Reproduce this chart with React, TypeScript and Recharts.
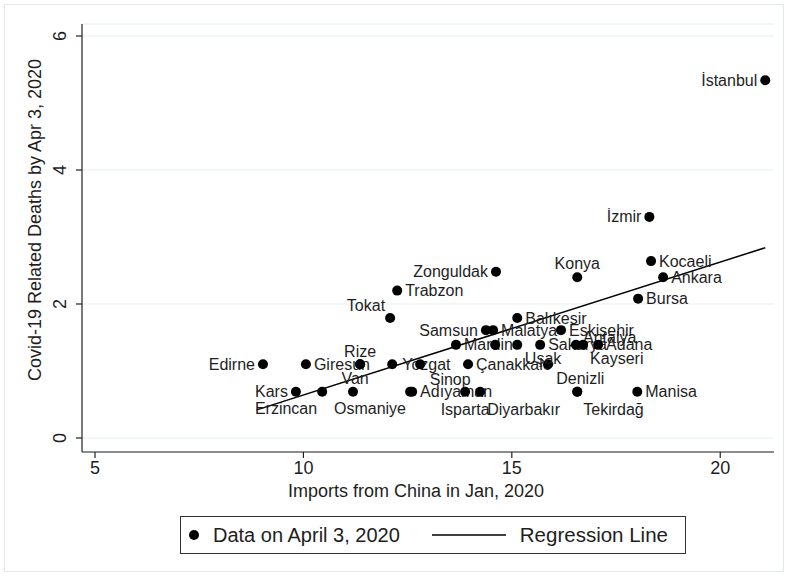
import { ScatterChart, Scatter, XAxis, YAxis, CartesianGrid, Legend } from "recharts";

// province data: log of Covid-19 deaths vs. imports from China
const provinces = [
  "İstanbul", "İzmir", "Kocaeli", "Ankara", "Bursa", "Konya", "Zonguldak", "Trabzon",
  "Tokat", "Balıkesir", "Samsun", "Malatya", "Eskişehir", "Mardin", "", "",
  "Sakarya", "Antalya", "Kayseri", "Adana", "Edirne", "Giresun", "Rize", "Van",
  "Yozgat", "", "Çanakkale", "Uşak", "Kars", "Erzincan", "Osmaniye", "Adıyaman",
  "Sinop", "Isparta", "Diyarbakır", "Denizli", "Tekirdağ", "Manisa",
];
const imports = [
  21.08, 18.3, 18.34, 18.63, 18.03, 16.57, 14.62, 12.25,
  12.08, 15.13, 14.38, 14.55, 16.18, 13.66, 14.6, 15.13,
  15.68, 16.54, 16.71, 17.07, 9.03, 10.06, 11.36, 11.36,
  12.13, 12.8, 13.95, 15.87, 9.82, 10.45, 11.19, 12.56,
  12.61, 13.88, 14.24, 16.57, 16.57, 18.01,
];
const deaths = [
  5.34, 3.3, 2.64, 2.4, 2.08, 2.4, 2.48, 2.2,
  1.79, 1.79, 1.61, 1.61, 1.61, 1.39, 1.39, 1.39,
  1.39, 1.39, 1.39, 1.39, 1.1, 1.1, 1.1, 1.1,
  1.1, 1.1, 1.1, 1.1, 0.69, 0.69, 0.69, 0.69,
  0.69, 0.69, 0.69, 0.69, 0.69, 0.69,
];

// fitted line end points
const fitX = [8.88, 21.08];
const fitY = [0.42, 2.84];

const xTicks = [5, 10, 15, 20];
const yTicks = [0, 2, 4, 6];

const points = provinces.map((name, i) => ({ name, imports: imports[i], deaths: deaths[i] }));
const fitLine = fitX.map((x, i) => ({ imports: x, deaths: fitY[i] }));

const FONT = "'Liberation Sans', Arial, sans-serif";
const INK = "#1e1e1e";

type Anchor = "start" | "middle" | "end";
// marker label placement: [dx, dy, anchor]; default is to the right
const LEFT: [number, number, Anchor] = [-8, 0, "end"];
const placement: Record<string, [number, number, Anchor]> = {
  "İstanbul": LEFT,
  "İzmir": LEFT,
  Zonguldak: LEFT,
  Samsun: LEFT,
  Edirne: LEFT,
  Kars: LEFT,
  Konya: [0, -14, "middle"],
  Tokat: [-5, -13, "end"],
  Antalya: [7, -7, "start"],
  Kayseri: [7, 14, "start"],
  Rize: [0, -13, "middle"],
  Van: [-5, 14, "middle"],
  "Uşak": [-5, -6, "middle"],
  Erzincan: [-5, 17, "end"],
  Osmaniye: [17, 17, "middle"],
  Sinop: [38, -12, "middle"],
  Isparta: [0, 18, "middle"],
  "Diyarbakır": [7, 18, "start"],
  Denizli: [3, -13, "middle"],
  "Tekirdağ": [6, 18, "start"],
  "Adıyaman": [10, 0, "start"],
  Yozgat: [10, 0, "start"],
};

const Dot = (props: any) => {
  const { cx, cy, payload } = props;
  const name: string = payload.name;
  const [dx, dy, anchor] = placement[name] || [8, 0, "start"];
  return (
    <g>
      <circle cx={cx} cy={cy} r={5} fill="#000" />
      {name && (
        <text
          x={cx + dx}
          y={cy + dy}
          dy="0.35em"
          textAnchor={anchor}
          fontSize={16}
          fontFamily={FONT}
          fill={INK}
        >
          {name}
        </text>
      )}
    </g>
  );
};

const YTick = (props: any) => {
  const { x, y, payload } = props;
  const bx = x - 8;
  return (
    <text
      x={bx}
      y={y}
      transform={`rotate(-90 ${bx} ${y})`}
      textAnchor="middle"
      fontSize={18}
      fontFamily={FONT}
      fill={INK}
    >
      {payload.value}
    </text>
  );
};

const LegendBox = () => (
  <div
    style={{
      boxSizing: "border-box",
      width: 506,
      height: 38,
      border: "1.5px solid #333",
      display: "flex",
      alignItems: "center",
      fontFamily: FONT,
      fontSize: 20,
      color: INK,
      background: "#fff",
    }}
  >
    <svg width={30} height={20}>
      <circle cx={13} cy={10} r={5} fill="#000" />
    </svg>
    <span style={{ marginLeft: 2 }}>Data on April 3, 2020</span>
    <svg width={88} height={20} style={{ marginLeft: 32 }}>
      <line x1={0} x2={74} y1={10} y2={10} stroke="#000" strokeWidth={1.5} />
    </svg>
    <span style={{ fontSize: 20.5 }}>Regression Line</span>
  </div>
);

export default function App() {
  return (
    <div style={{ position: "absolute", left: 0, top: 0, width: 788, height: 576, background: "#fff" }}>
      <div
        style={{
          position: "absolute",
          left: 4,
          top: 4,
          width: 778,
          height: 566,
          border: "1px solid #e3eaec",
        }}
      />
      <ScatterChart
        width={788}
        height={576}
        margin={{ top: 24, right: 14, bottom: 84, left: 22 }}
        style={{ position: "absolute", left: 0, top: 0 }}
      >
        <CartesianGrid vertical={false} stroke="#e4eef0" strokeWidth={1} />
        <XAxis
          type="number"
          dataKey="imports"
          domain={[4.688, 21.29]}
          ticks={xTicks}
          allowDataOverflow
          height={40}
          tickSize={6}
          tickMargin={3}
          axisLine={{ stroke: "#222", strokeWidth: 1.2 }}
          tickLine={{ stroke: "#222", strokeWidth: 1.2 }}
          tick={{ fontSize: 18, fontFamily: FONT, fill: INK }}
          label={{
            value: "Imports from China in Jan, 2020",
            position: "insideBottom",
            offset: 0,
            dx: -12,
            dy: 5,
            fontSize: 18,
            fontFamily: FONT,
            fill: INK,
          }}
        />
        <YAxis
          type="number"
          dataKey="deaths"
          domain={[-0.209, 6.179]}
          ticks={yTicks}
          allowDataOverflow
          width={60}
          tickSize={6}
          axisLine={{ stroke: "#222", strokeWidth: 1.2 }}
          tickLine={{ stroke: "#222", strokeWidth: 1.2 }}
          tick={<YTick />}
          label={() => {
            const cx = 41;
            const cy = 220;
            return (
              <text
                x={cx}
                y={cy}
                transform={`rotate(-90 ${cx} ${cy})`}
                textAnchor="middle"
                fontSize={18}
                fontFamily={FONT}
                fill={INK}
              >
                Covid-19 Related Deaths by Apr 3, 2020
              </text>
            );
          }}
        />
        <Scatter
          data={fitLine}
          line={{ stroke: "#000", strokeWidth: 1.5 }}
          shape={() => <g />}
          isAnimationActive={false}
        />
        <Scatter data={points} shape={<Dot />} isAnimationActive={false} />
        <Legend
          layout="horizontal"
          verticalAlign="middle"
          align="center"
          wrapperStyle={{ left: 180, top: 516, width: 506, height: 38 }}
          content={<LegendBox />}
        />
      </ScatterChart>
    </div>
  );
}
